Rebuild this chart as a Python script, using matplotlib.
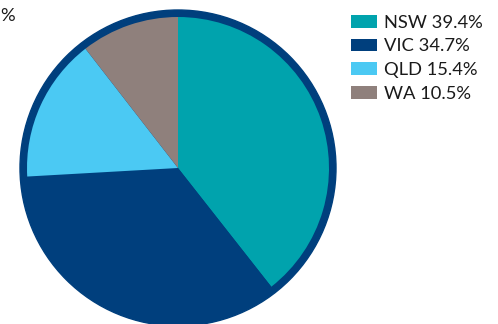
import matplotlib
matplotlib.use("Agg")
import matplotlib.pyplot as plt
from matplotlib.patches import Circle

# State shares of the total
states = ["NSW", "VIC", "QLD", "WA"]
shares = [39.4, 34.7, 15.4, 10.5]
colors = ["#00A3AD", "#003F7D", "#4BC9F3", "#8F807C"]
ring_color = "#003F7D"

plt.rcParams["font.family"] = ["Lato", "DejaVu Sans"]

W, H = 498, 324
fig = plt.figure(figsize=(W / 100, H / 100), dpi=100)
ax = fig.add_axes([0, 0, 1, 1])

cx, cy = 178, H - 168
r_outer, r_inner = 158, 151

# navy rim behind the wedges
ax.add_patch(Circle((cx, cy), r_outer, color=ring_color, zorder=1))

wedges, _ = ax.pie(shares, colors=colors, startangle=90, counterclock=False,
                   radius=r_inner, center=(cx, cy), frame=True,
                   wedgeprops=dict(linewidth=0, antialiased=True))
for w in wedges:
    w.set_zorder(2)
ax.set_xlim(0, W)
ax.set_ylim(0, H)
ax.set_aspect("equal")
ax.axis("off")

labels = [f"{s} {v:.1f}%" for s, v in zip(states, shares)]
fs = 13.2
leg = ax.legend(wedges, labels, loc="upper left",
                bbox_to_anchor=(345 / W, 1 - 9 / H), bbox_transform=fig.transFigure,
                frameon=False, fontsize=fs, handlelength=1.45, handleheight=0.7,
                handletextpad=0.35, labelspacing=0.43, borderaxespad=0, borderpad=0.3)
for t in leg.get_texts():
    t.set_color("#1a1a1a")

# label of a neighbouring chart at the left edge
fig.text(0, 1 - 16 / H, "%", ha="left", va="center", fontsize=fs, color="#1a1a1a")

fig.savefig("out.png", dpi=100)
